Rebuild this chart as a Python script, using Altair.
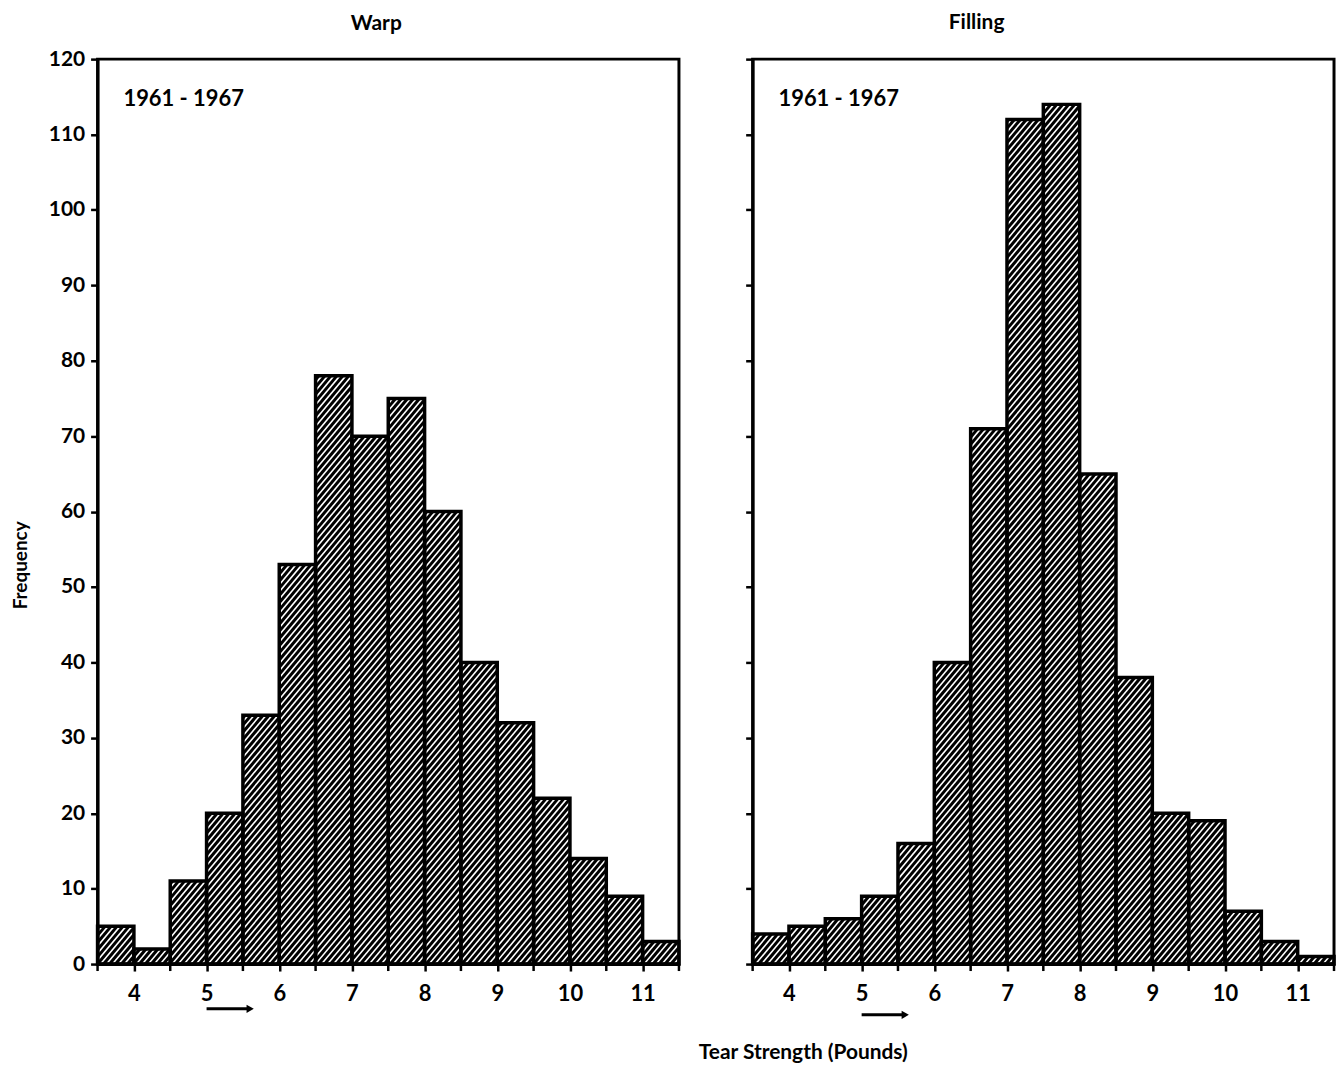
import altair as alt
import pandas as pd
import numpy as np

# ---- data ----
bin_starts = [3.5, 4.0, 4.5, 5.0, 5.5, 6.0, 6.5, 7.0, 7.5, 8.0, 8.5, 9.0, 9.5, 10.0, 10.5, 11.0]
bin_width = 0.5
warp_counts = [5, 2, 11, 20, 33, 53, 78, 70, 75, 60, 40, 32, 22, 14, 9, 3]
filling_counts = [4, 5, 6, 9, 16, 40, 71, 112, 114, 65, 38, 20, 19, 7, 3, 1]
panel_titles = ["Warp", "Filling"]
period_label = "1961 - 1967"
x_labels = [4, 5, 6, 7, 8, 9, 10, 11]
x_minor_ticks = [3.5, 4.5, 5.5, 6.5, 7.5, 8.5, 9.5, 10.5, 11.5]
y_ticks = list(range(0, 121, 10))
x_title = "Tear Strength (Pounds)"
y_title = "Frequency"

FONT = "Lato"
W, H = 584, 909
XDOM = [3.5, 11.5]
YDOM = [0, 120]
kx = W / (XDOM[1] - XDOM[0])
ky = H / (YDOM[1] - YDOM[0])
TICK = 7


def hatch_segments(counts, spacing=6.0, slope=1.2):
    """Diagonal hatch lines clipped to each bar, derived from the bar values."""
    rows = []
    for s, h in zip(bin_starts, counts):
        X0 = (s - XDOM[0]) * kx
        X1 = X0 + bin_width * kx
        Hb = h * ky
        c = np.floor((X0 - Hb / slope) / spacing) * spacing
        while c < X1:
            xa = max(X0, c)
            xb = min(X1, c + Hb / slope)
            if xb > xa:
                ya = slope * (xa - c)
                yb = slope * (xb - c)
                rows.append({
                    "hx": xa / kx + XDOM[0], "hy": ya / ky,
                    "hx2": xb / kx + XDOM[0], "hy2": yb / ky,
                })
            c += spacing
    return pd.DataFrame(rows)


def panel(counts, title, first, title_dx, title_offset, arrow_dy):
    df = pd.DataFrame({
        "start": bin_starts,
        "end": [b + bin_width for b in bin_starts],
        "count": counts,
    })
    xscale = alt.Scale(domain=XDOM, nice=False, zero=False)
    yscale = alt.Scale(domain=YDOM, nice=False)
    xaxis = alt.Axis(values=x_labels, title=None, labelOverlap=False,
                     labelFlush=False, format="d", labelPadding=13,
                     labelFontSize=22)
    yaxis = alt.Axis(values=y_ticks, labels=first, labelOverlap=False,
                     title=y_title if first else None,
                     titleX=-67, titleY=508)

    hatch = alt.Chart(hatch_segments(counts)).mark_rule(
        color="black", strokeWidth=3, strokeCap="butt"
    ).encode(
        x=alt.X("hx:Q", scale=xscale, axis=xaxis),
        y=alt.Y("hy:Q", scale=yscale, axis=yaxis),
        x2="hx2:Q",
        y2="hy2:Q",
    )

    bars = alt.Chart(df).mark_rect(
        fill="white", fillOpacity=0, stroke="black", strokeWidth=3.5
    ).encode(
        x=alt.X("start:Q", scale=xscale, axis=xaxis),
        x2="end:Q",
        y=alt.Y("count:Q", scale=yscale, axis=yaxis),
        y2=alt.datum(0),
    )

    minor = alt.Chart(pd.DataFrame({"m": x_minor_ticks})).mark_rule(
        color="black", strokeWidth=2.5
    ).encode(
        x=alt.X("m:Q", scale=xscale),
        y=alt.value(H), y2=alt.value(H + TICK),
    )

    label = alt.Chart(pd.DataFrame({"t": [period_label]})).mark_text(
        align="left", baseline="middle", fontSize=22, font=FONT, fontWeight="bold"
    ).encode(x=alt.value(26), y=alt.value(40), text="t:N")

    arrow_df = pd.DataFrame({"a": [5.0], "b": [5.6]})
    arrow_line = alt.Chart(arrow_df).mark_rule(color="black", strokeWidth=3).encode(
        x=alt.X("a:Q", scale=xscale), x2="b:Q", y=alt.value(H + arrow_dy)
    )
    arrow_head = alt.Chart(arrow_df).mark_point(
        shape="triangle-right", filled=True, color="black", size=70, opacity=1
    ).encode(x=alt.X("b:Q", scale=xscale), y=alt.value(H + arrow_dy))

    return alt.layer(hatch, bars, minor, label, arrow_line, arrow_head).properties(
        width=W, height=H,
        title=alt.TitleParams(title, dx=title_dx, fontSize=21, font=FONT,
                              fontWeight="bold", offset=title_offset, anchor="middle"),
    )


left = panel(warp_counts, panel_titles[0], True, -12, 14, 45)
right = panel(filling_counts, panel_titles[1], False, -67, 25, 51)

chart = alt.hconcat(left, right, spacing=60).properties(
    padding={"left": 10, "top": 8, "right": 0, "bottom": 0},
    title=alt.TitleParams(x_title, orient="bottom", anchor="middle", dx=130,
                          fontSize=21, font=FONT, fontWeight="bold", offset=22),
).configure_view(
    stroke="black", strokeWidth=3
).configure_axis(
    domainColor="black", domainWidth=3, tickColor="black", tickWidth=2.5,
    tickSize=TICK, labelFont=FONT, labelFontSize=21, labelFontWeight="bold",
    labelColor="black", labelPadding=6, titleFont=FONT, titleFontSize=19,
    titleFontWeight="bold", titleColor="black", grid=False,
).configure_title(color="black")

chart.save("out.html", embed_options={"renderer": "svg", "actions": False})
